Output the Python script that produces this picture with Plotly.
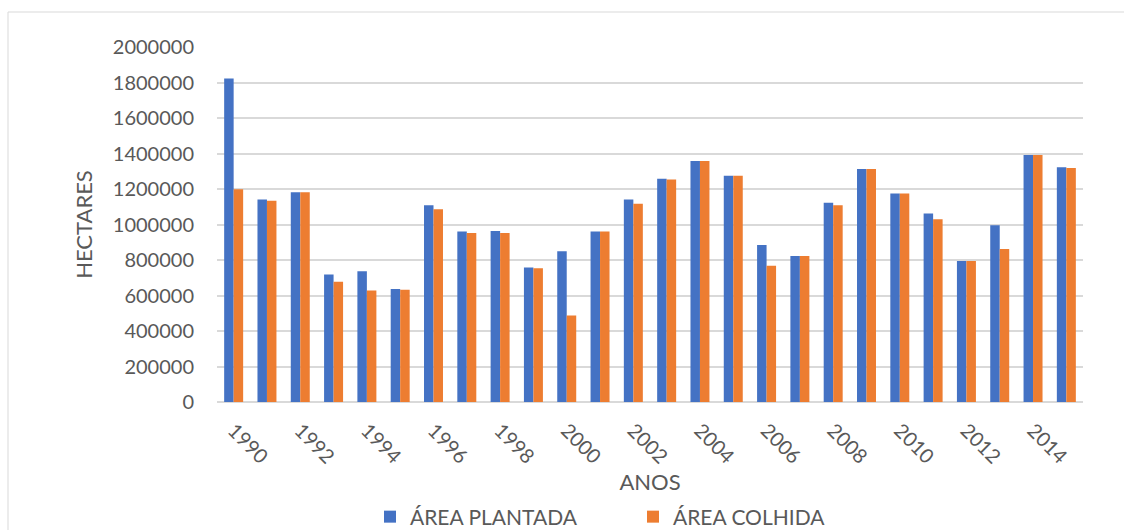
import plotly.graph_objects as go

# Harvest data: planted vs harvested area (hectares), 1990-2015
anos = list(range(1990, 2016))
area_plantada = [
    1823000, 1141000, 1181000, 718000, 736000, 637000, 1109000, 960000,
    963000, 758000, 850000, 960000, 1141000, 1258000, 1358000, 1275000,
    884000, 822000, 1122000, 1313000, 1174000, 1062000, 794000, 996000,
    1392000, 1322000,
]
area_colhida = [
    1198000, 1134000, 1181000, 678000, 628000, 633000, 1086000, 952000,
    952000, 754000, 487000, 960000, 1117000, 1253000, 1358000, 1275000,
    767000, 822000, 1109000, 1313000, 1174000, 1030000, 794000, 862000,
    1392000, 1319000,
]
rotulos_x = list(range(1990, 2015, 2))
rotulos_y = list(range(0, 2000001, 200000))

FONT = "Lato, 'Open Sans', sans-serif"
TEXT = "#595959"
GRID = "#d9d9d9"

fig = go.Figure()
fig.add_trace(go.Bar(x=anos, y=area_plantada, name="ÁREA PLANTADA",
                     marker=dict(color="#4472C4", line=dict(width=0))))
fig.add_trace(go.Bar(x=anos, y=area_colhida, name="ÁREA COLHIDA",
                     marker=dict(color="#ED7D31", line=dict(width=0))))

L, R, T, B = 217, 41, 47, 128
W, H = 1124, 530
pw, ph = W - L - R, H - T - B

fig.update_layout(
    width=W, height=H,
    margin=dict(l=L, r=R, t=T, b=B, pad=0, autoexpand=False),
    paper_bgcolor="white", plot_bgcolor="white",
    font=dict(family=FONT, color=TEXT, size=20),
    barmode="group", bargap=0.43, bargroupgap=0,
    xaxis=dict(
        range=[1989.5, 2015.5], tickvals=rotulos_x,
        ticktext=[str(a) for a in rotulos_x],
        tickangle=45, ticks="", showgrid=False, zeroline=False,
        showline=False, tickfont=dict(size=20, color=TEXT),
        ticklabelstandoff=12, automargin=False,
        title=dict(text="ANOS", font=dict(size=22, color=TEXT), standoff=6),
    ),
    yaxis=dict(
        range=[0, 2000000], tickvals=rotulos_y,
        ticktext=[str(v) for v in rotulos_y],
        showgrid=True, gridcolor=GRID, gridwidth=2,
        zeroline=True, zerolinecolor=GRID, zerolinewidth=2,
        showline=False, ticks="", tickfont=dict(size=20, color=TEXT),
        ticklabelstandoff=22, automargin=False,
        title=dict(text="HECTARES", font=dict(size=22, color=TEXT), standoff=14),
    ),
    legend=dict(
        orientation="h", x=(370 - L) / pw, xanchor="left",
        y=(H - B - 517) / ph, yanchor="middle",
        font=dict(size=21, color=TEXT), entrywidth=218,
        itemwidth=30, bgcolor="rgba(0,0,0,0)",
    ),
    shapes=[dict(
        type="rect", xref="paper", yref="paper",
        x0=(8 - L) / pw, x1=1.2, y0=-0.6, y1=(H - B - 12) / ph,
        line=dict(color=GRID, width=1), fillcolor="rgba(0,0,0,0)", layer="below",
    )],
)

fig.write_html("out.html")
